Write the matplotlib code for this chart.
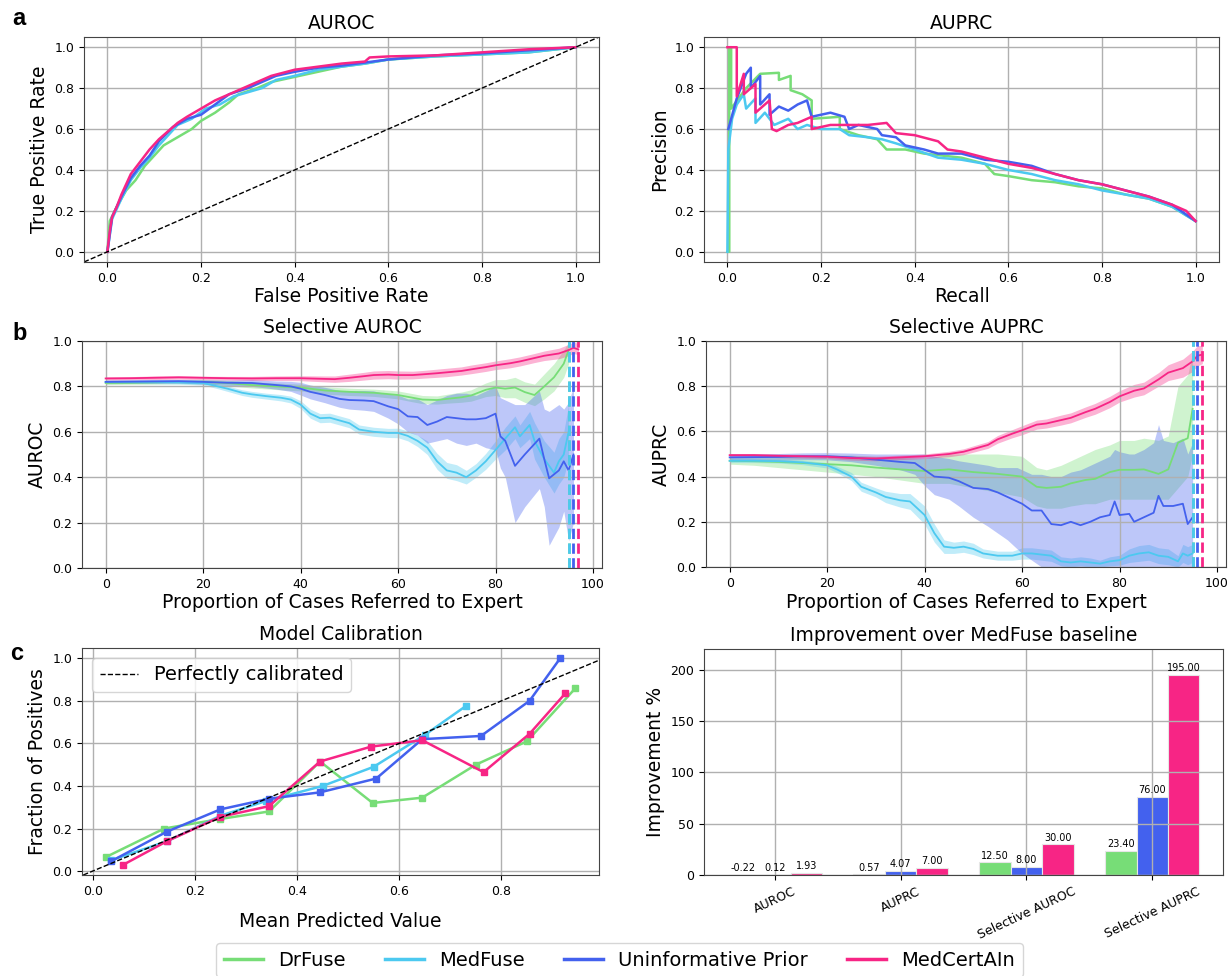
import numpy as np
import matplotlib
matplotlib.use('Agg')
import matplotlib.pyplot as plt

# model names / colours
names = ['DrFuse', 'MedFuse', 'Uninformative Prior', 'MedCertAIn']
colors = ['#77DD77', '#4CC9F0', '#4361EE', '#F72585']

# ---- a: ROC curves (fpr, tpr)
roc_drfuse = [(0, 0), (0.005, 0.15), (0.02, 0.22), (0.04, 0.3), (0.06, 0.35), (0.08, 0.42), (0.1, 0.47),
              (0.12, 0.52), (0.15, 0.56), (0.18, 0.6), (0.2, 0.64), (0.23, 0.68), (0.26, 0.73), (0.28, 0.77),
              (0.32, 0.8), (0.35, 0.83), (0.4, 0.855), (0.45, 0.88), (0.5, 0.905), (0.55, 0.92), (0.6, 0.94),
              (0.7, 0.955), (0.8, 0.965), (0.9, 0.975), (0.96, 0.99), (1, 1)]
roc_medfuse = [(0, 0), (0.01, 0.16), (0.03, 0.26), (0.05, 0.35), (0.07, 0.41), (0.09, 0.46), (0.11, 0.52),
               (0.13, 0.57), (0.15, 0.62), (0.18, 0.65), (0.21, 0.7), (0.24, 0.72), (0.27, 0.76), (0.3, 0.78),
               (0.33, 0.8), (0.36, 0.84), (0.4, 0.86), (0.45, 0.89), (0.5, 0.905), (0.55, 0.92), (0.6, 0.94),
               (0.7, 0.955), (0.8, 0.965), (0.9, 0.975), (1, 1)]
roc_uninf = [(0, 0), (0.01, 0.17), (0.03, 0.27), (0.05, 0.36), (0.07, 0.42), (0.09, 0.47), (0.11, 0.54),
             (0.14, 0.61), (0.17, 0.65), (0.2, 0.67), (0.23, 0.72), (0.26, 0.77), (0.3, 0.8), (0.33, 0.83),
             (0.36, 0.86), (0.4, 0.88), (0.45, 0.9), (0.5, 0.91), (0.55, 0.925), (0.6, 0.94), (0.7, 0.96),
             (0.8, 0.97), (0.9, 0.985), (1, 1)]
roc_medcert = [(0, 0), (0.005, 0.1), (0.01, 0.17), (0.02, 0.22), (0.03, 0.28), (0.04, 0.33), (0.05, 0.38),
               (0.07, 0.44), (0.09, 0.5), (0.11, 0.55), (0.13, 0.59), (0.15, 0.63), (0.17, 0.66), (0.2, 0.7),
               (0.23, 0.74), (0.26, 0.77), (0.3, 0.81), (0.35, 0.86), (0.4, 0.89), (0.45, 0.905), (0.5, 0.92),
               (0.55, 0.93), (0.56, 0.95), (0.6, 0.955), (0.7, 0.96), (0.8, 0.975), (0.9, 0.99), (1, 1)]

# ---- a: PR curves (recall, precision)
pr_drfuse = [(0, 0), (0.004, 0), (0.004, 1.0), (0.008, 1.0), (0.008, 0.7), (0.04, 0.8), (0.07, 0.87),
             (0.11, 0.875), (0.11, 0.84), (0.135, 0.86), (0.135, 0.79), (0.16, 0.77), (0.18, 0.74), (0.18, 0.65),
             (0.24, 0.66), (0.24, 0.6), (0.28, 0.57), (0.32, 0.55), (0.34, 0.5), (0.38, 0.5), (0.42, 0.48),
             (0.5, 0.46), (0.55, 0.43), (0.57, 0.38), (0.6, 0.37), (0.65, 0.35), (0.7, 0.34), (0.75, 0.32),
             (0.8, 0.31), (0.85, 0.28), (0.9, 0.26), (0.95, 0.22), (1.0, 0.15)]
pr_medfuse = [(0, 0), (0.002, 0.5), (0.01, 0.65), (0.02, 0.72), (0.035, 0.77), (0.04, 0.7), (0.06, 0.75),
              (0.06, 0.63), (0.08, 0.68), (0.1, 0.62), (0.13, 0.65), (0.15, 0.6), (0.17, 0.62), (0.2, 0.6),
              (0.24, 0.6), (0.26, 0.57), (0.3, 0.56), (0.33, 0.55), (0.36, 0.53), (0.4, 0.5), (0.45, 0.46),
              (0.5, 0.45), (0.55, 0.43), (0.6, 0.4), (0.65, 0.38), (0.7, 0.35), (0.75, 0.33), (0.8, 0.3),
              (0.85, 0.28), (0.9, 0.26), (0.95, 0.22), (1.0, 0.15)]
pr_uninf = [(0.002, 0.6), (0.02, 0.75), (0.04, 0.87), (0.05, 0.9), (0.05, 0.8), (0.07, 0.86), (0.07, 0.72),
            (0.09, 0.77), (0.09, 0.67), (0.11, 0.71), (0.13, 0.69), (0.15, 0.72), (0.17, 0.74), (0.18, 0.66),
            (0.22, 0.68), (0.25, 0.66), (0.26, 0.6), (0.28, 0.62), (0.32, 0.6), (0.33, 0.57), (0.36, 0.56),
            (0.38, 0.52), (0.42, 0.5), (0.45, 0.48), (0.5, 0.48), (0.55, 0.45), (0.6, 0.44), (0.65, 0.42),
            (0.7, 0.38), (0.75, 0.35), (0.8, 0.33), (0.85, 0.3), (0.9, 0.27), (0.95, 0.23), (1.0, 0.15)]
pr_medcert = [(0, 1.0), (0.02, 1.0), (0.02, 0.76), (0.035, 0.87), (0.035, 0.77), (0.06, 0.82), (0.06, 0.68),
              (0.09, 0.74), (0.095, 0.6), (0.105, 0.59), (0.13, 0.62), (0.15, 0.63), (0.18, 0.66), (0.18, 0.6),
              (0.22, 0.62), (0.3, 0.62), (0.34, 0.63), (0.36, 0.58), (0.4, 0.57), (0.45, 0.54), (0.47, 0.5),
              (0.5, 0.49), (0.55, 0.46), (0.6, 0.43), (0.65, 0.41), (0.7, 0.38), (0.75, 0.35), (0.8, 0.33),
              (0.85, 0.3), (0.9, 0.27), (0.95, 0.23), (0.98, 0.2), (1.0, 0.15)]

# ---- b: selective AUROC (x, mean, lo, hi)
sauroc_drfuse = [(0, .815, .808, .822), (5, .816, .809, .823), (10, .818, .81, .826), (15, .82, .812, .828),
                 (20, .82, .81, .83), (25, .815, .803, .827), (30, .806, .793, .82), (35, .8, .786, .815),
                 (40, .795, .78, .81), (45, .782, .766, .798), (50, .776, .76, .792), (55, .772, .756, .788),
                 (60, .762, .745, .78), (63, .75, .732, .768), (65, .742, .724, .76), (68, .74, .722, .758),
                 (70, .745, .726, .765), (73, .752, .73, .775), (75, .76, .735, .785), (78, .785, .755, .815),
                 (80, .795, .76, .83), (82, .79, .75, .83), (84, .795, .75, .84), (86, .775, .73, .82),
                 (88, .762, .715, .81), (90, .8, .745, .855), (92, .84, .78, .9), (94, .9, .84, .96),
                 (95, .96, .9, .995)]
sauroc_medfuse = [(0, .82, .813, .827), (5, .82, .813, .827), (10, .82, .812, .828), (15, .818, .81, .826),
                  (20, .815, .806, .824), (23, .8, .79, .81), (25, .79, .778, .802), (28, .772, .76, .785),
                  (30, .765, .752, .778), (33, .757, .744, .77), (36, .75, .736, .764), (38, .742, .727, .757),
                  (40, .72, .703, .737), (42, .68, .66, .7), (44, .66, .64, .68), (46, .662, .642, .682),
                  (48, .65, .63, .67), (50, .638, .618, .658), (52, .61, .59, .63), (55, .6, .58, .62),
                  (58, .595, .575, .615), (60, .595, .574, .616), (62, .582, .56, .604), (64, .56, .535, .585),
                  (66, .53, .5, .56), (68, .47, .435, .505), (70, .43, .395, .465), (72, .42, .385, .455),
                  (74, .4, .37, .43), (76, .43, .4, .46), (78, .47, .435, .505), (80, .52, .48, .56),
                  (82, .57, .52, .62), (84, .62, .57, .67), (85, .58, .53, .63), (87, .63, .57, .69),
                  (88, .56, .48, .64), (90, .48, .4, .56), (92, .42, .33, .51), (93, .47, .37, .57),
                  (94, .5, .4, .6), (95, .6, .48, .72)]
sauroc_uninf = [(0, .82, .812, .828), (5, .821, .813, .829), (10, .822, .814, .83), (15, .823, .815, .831),
                (20, .82, .81, .83), (25, .816, .804, .828), (30, .815, .8, .83), (35, .806, .788, .824),
                (38, .8, .778, .822), (40, .79, .762, .818), (42, .776, .745, .806), (45, .762, .728, .796),
                (48, .745, .708, .782), (50, .74, .7, .78), (53, .738, .695, .782), (55, .735, .69, .78),
                (58, .712, .66, .765), (60, .7, .635, .762), (62, .668, .6, .745), (64, .665, .585, .745),
                (66, .63, .55, .72), (68, .645, .56, .74), (70, .665, .57, .76), (72, .66, .55, .77),
                (74, .655, .54, .77), (76, .655, .55, .76), (78, .66, .53, .78), (80, .68, .52, .8),
                (81, .58, .44, .75), (82, .56, .4, .74), (84, .45, .2, .72), (86, .5, .27, .72),
                (89, .57, .35, .78), (90, .48, .27, .7), (91, .395, .1, .69), (93, .43, .18, .72),
                (94, .47, .25, .7), (95, .43, .12, .73), (96, .5, .2, .8)]
sauroc_medcert = [(0, .835, .828, .842), (5, .836, .829, .843), (10, .838, .83, .846), (15, .84, .832, .847),
                  (20, .838, .83, .845), (25, .836, .828, .844), (30, .835, .826, .844), (35, .836, .826, .846),
                  (40, .836, .825, .847), (45, .833, .82, .846), (47, .832, .818, .846), (50, .838, .822, .854),
                  (53, .845, .828, .862), (55, .85, .832, .868), (58, .852, .834, .87), (60, .85, .832, .868),
                  (63, .85, .833, .867), (65, .853, .836, .87), (68, .858, .84, .876), (70, .862, .843, .88),
                  (73, .868, .85, .886), (75, .875, .856, .894), (78, .885, .866, .904), (80, .893, .874, .912),
                  (83, .902, .882, .922), (85, .91, .89, .93), (88, .925, .905, .945), (90, .935, .914, .956),
                  (93, .945, .922, .968), (95, .96, .935, .985), (96, .97, .945, .995), (97, .963, .94, .99)]

# ---- b: selective AUPRC (x, mean, lo, hi)
sauprc_drfuse = [(0, .47, .455, .485), (5, .468, .45, .486), (10, .465, .44, .49), (15, .46, .43, .49),
                 (20, .455, .42, .495), (25, .45, .41, .495), (30, .44, .4, .49), (35, .432, .385, .485),
                 (40, .425, .37, .48), (45, .432, .37, .5), (50, .42, .35, .5), (55, .412, .33, .5),
                 (60, .4, .31, .49), (63, .355, .27, .44), (65, .35, .26, .43), (68, .355, .26, .45),
                 (70, .37, .27, .47), (73, .385, .28, .5), (75, .39, .28, .52), (78, .42, .3, .54),
                 (80, .43, .3, .56), (83, .43, .3, .56), (85, .432, .3, .57), (88, .412, .3, .56),
                 (90, .432, .3, .58), (92, .55, .35, .8), (94, .57, .4, .85), (95, .7, .5, .95)]
sauprc_medfuse = [(0, .47, .462, .478), (5, .47, .462, .478), (10, .468, .46, .476), (15, .463, .453, .473),
                  (20, .45, .438, .462), (22, .432, .418, .446), (25, .4, .382, .418), (27, .355, .335, .375),
                  (30, .33, .31, .35), (32, .31, .285, .335), (35, .295, .265, .325), (37, .29, .255, .325),
                  (40, .23, .19, .27), (42, .15, .11, .19), (44, .09, .06, .12), (46, .085, .06, .11),
                  (48, .09, .065, .115), (50, .08, .055, .105), (52, .06, .04, .08), (55, .05, .03, .07),
                  (58, .05, .03, .07), (60, .06, .035, .085), (62, .06, .035, .085), (64, .055, .03, .08),
                  (66, .05, .025, .075), (68, .025, .005, .045), (70, .02, .0, .04), (72, .025, .005, .045),
                  (74, .02, .0, .04), (76, .015, .0, .03), (78, .025, .005, .045), (80, .03, .008, .052),
                  (82, .05, .02, .08), (84, .06, .025, .095), (86, .065, .03, .1), (88, .05, .015, .085),
                  (90, .045, .01, .08), (92, .025, .0, .05), (93, .06, .02, .1), (94, .05, .01, .09),
                  (95, .06, .02, .1)]
sauprc_uninf = [(0, .485, .47, .5), (5, .486, .47, .5), (10, .487, .472, .502), (15, .49, .475, .505),
                (20, .49, .474, .506), (25, .485, .466, .504), (30, .475, .45, .5), (35, .465, .43, .5),
                (38, .46, .41, .5), (40, .43, .36, .5), (42, .4, .32, .49), (45, .395, .3, .48),
                (47, .38, .27, .47), (50, .35, .22, .46), (53, .345, .18, .45), (55, .33, .15, .44),
                (57, .31, .12, .44), (59, .29, .08, .44), (60, .28, .06, .43), (62, .25, .03, .41),
                (64, .25, .0, .41), (66, .19, -.02, .4), (68, .185, -.03, .4), (70, .2, -.03, .42),
                (72, .185, -.04, .43), (74, .2, -.05, .45), (76, .22, -.05, .47), (78, .23, -.05, .49),
                (79, .29, .0, .52), (80, .23, -.05, .51), (82, .235, -.04, .5), (83, .2, -.04, .5),
                (85, .22, -.03, .52), (87, .24, -.03, .55), (88, .315, .0, .63), (89, .27, -.02, .56),
                (91, .27, -.03, .55), (93, .28, -.02, .57), (94, .19, -.03, .5), (95, .22, .0, .55)]
sauprc_medcert = [(0, .495, .488, .502), (5, .495, .488, .502), (10, .492, .484, .5), (15, .49, .482, .498),
                  (20, .488, .48, .496), (25, .482, .473, .491), (30, .48, .47, .49), (35, .485, .475, .495),
                  (40, .49, .48, .5), (45, .5, .488, .512), (48, .51, .497, .523), (50, .522, .508, .536),
                  (53, .54, .525, .555), (55, .565, .548, .582), (58, .59, .572, .608), (60, .605, .585, .625),
                  (63, .63, .61, .65), (65, .635, .615, .655), (68, .65, .628, .672), (70, .66, .638, .682),
                  (73, .685, .662, .708), (75, .7, .676, .724), (78, .73, .705, .755), (80, .755, .73, .78),
                  (83, .78, .752, .808), (85, .79, .762, .818), (88, .83, .8, .86), (90, .86, .825, .895),
                  (93, .88, .84, .92), (95, .91, .865, .955), (96, .935, .89, .98), (97, .94, .9, .98)]

# referral cut-off per model (dashed lines)
cutoffs = [95, 95, 96, 97]

# ---- c: calibration (mean predicted, fraction positives)
cal_drfuse = [(0.025, 0.065), (0.14, 0.2), (0.25, 0.245), (0.345, 0.28), (0.445, 0.515), (0.548, 0.32),
              (0.645, 0.345), (0.75, 0.5), (0.85, 0.61), (0.945, 0.86)]
cal_medfuse = [(0.035, 0.05), (0.145, 0.14), (0.25, 0.26), (0.34, 0.33), (0.45, 0.4), (0.55, 0.49),
               (0.65, 0.64), (0.73, 0.775)]
cal_uninf = [(0.035, 0.045), (0.145, 0.185), (0.25, 0.29), (0.345, 0.34), (0.445, 0.37), (0.555, 0.435),
             (0.645, 0.62), (0.76, 0.635), (0.855, 0.8), (0.915, 1.0)]
cal_medcert = [(0.06, 0.03), (0.145, 0.14), (0.25, 0.255), (0.345, 0.305), (0.445, 0.515), (0.545, 0.585),
               (0.645, 0.615), (0.765, 0.465), (0.855, 0.645), (0.925, 0.835)]

# ---- c: improvement over MedFuse (%)
metrics = ['AUROC', 'AUPRC', 'Selective AUROC', 'Selective AUPRC']
imp_drfuse = [-0.22, 0.57, 12.50, 23.40]
imp_uninf = [0.12, 4.07, 8.00, 76.00]
imp_medcert = [1.93, 7.00, 30.00, 195.00]

TICK = 9
LAB = 13.5

fig = plt.figure(figsize=(12.32, 9.76), dpi=100)
W, H = 1232, 976


def ax_at(l, t, r, b):
    ax = fig.add_axes([l / W, 1 - b / H, (r - l) / W, (b - t) / H])
    ax.grid(True, color='#b0b0b0', lw=1)
    ax.tick_params(labelsize=TICK)
    for s in ax.spines.values():
        s.set_color('#444444')
    return ax


# a - ROC
ax1 = ax_at(84, 37, 599, 262)
for data, c in zip([roc_drfuse, roc_medfuse, roc_uninf, roc_medcert], colors):
    d = np.array(data)
    ax1.plot(d[:, 0], d[:, 1], color=c, lw=1.8)
ax1.axline((0, 0), (1, 1), color='black', ls='--', lw=1)
ax1.set_xlim(-0.05, 1.05)
ax1.set_ylim(-0.05, 1.05)
ax1.set_title('AUROC', fontsize=LAB)
ax1.set_xlabel('False Positive Rate', fontsize=LAB, labelpad=2)
ax1.set_ylabel('True Positive Rate', fontsize=LAB)

# a - PR
ax2 = ax_at(704, 37, 1219, 262)
for data, c in zip([pr_drfuse, pr_medfuse, pr_uninf, pr_medcert], colors):
    d = np.array(data)
    ax2.plot(d[:, 0], d[:, 1], color=c, lw=1.8)
ax2.set_xlim(-0.05, 1.05)
ax2.set_ylim(-0.05, 1.05)
ax2.set_title('AUPRC', fontsize=LAB)
ax2.set_xlabel('Recall', fontsize=LAB, labelpad=2)
ax2.set_ylabel('Precision', fontsize=LAB)


def selective(ax, series, title, ylab):
    for data, c in zip(series, colors):
        d = np.array(data)
        ax.fill_between(d[:, 0], d[:, 2], d[:, 3], color=c, alpha=0.35, lw=0)
        ax.plot(d[:, 0], d[:, 1], color=c, lw=1.3)
    for x, c in zip(cutoffs, colors):
        ax.axvline(x, color=c, ls='--', lw=2)
    ax.set_xlim(-4.85, 101.85)
    ax.set_ylim(0, 1)
    ax.set_title(title, fontsize=LAB)
    ax.set_xlabel('Proportion of Cases Referred to Expert', fontsize=LAB, labelpad=2)
    ax.set_ylabel(ylab, fontsize=LAB)


ax3 = ax_at(82, 341, 602, 568)
selective(ax3, [sauroc_drfuse, sauroc_medfuse, sauroc_uninf, sauroc_medcert], 'Selective AUROC', 'AUROC')
ax4 = ax_at(706, 341, 1226, 567)
selective(ax4, [sauprc_drfuse, sauprc_medfuse, sauprc_uninf, sauprc_medcert], 'Selective AUPRC', 'AUPRC')

# c - calibration
ax5 = ax_at(82, 648, 599, 875)
for data, c in zip([cal_drfuse, cal_medfuse, cal_uninf, cal_medcert], colors):
    d = np.array(data)
    ax5.plot(d[:, 0], d[:, 1], color=c, lw=1.8, marker='s', ms=4)
ax5.axline((0, 0), (1, 1), color='black', ls='--', lw=1, label='Perfectly calibrated')
ax5.set_xlim(-0.021, 0.991)
ax5.set_ylim(-0.0185, 1.0485)
ax5.legend(loc='upper left', fontsize=14)
ax5.set_title('Model Calibration', fontsize=LAB)
ax5.set_xlabel('Mean Predicted Value', fontsize=LAB, labelpad=10)
ax5.set_ylabel('Fraction of Positives', fontsize=LAB)

# c - improvement bars
ax6 = ax_at(704, 649, 1223, 875)
xs = np.arange(len(metrics))
wd = 0.25
for k, (vals, c) in enumerate(zip([imp_drfuse, imp_uninf, imp_medcert], [colors[0], colors[2], colors[3]])):
    pos = xs + (k - 1) * wd
    ax6.bar(pos, vals, wd, color=c, edgecolor='#e6e6e6', lw=0.8)
    for p, v in zip(pos, vals):
        ax6.text(p, max(v, 0) + 1.5, f'{v:.2f}', ha='center', va='bottom', fontsize=7)
ax6.set_ylim(0, 220)
ax6.set_yticks([0, 50, 100, 150, 200])
ax6.set_xticks(xs)
ax6.set_xticklabels(metrics, rotation=25, fontsize=TICK)
ax6.set_title('Improvement over MedFuse baseline', fontsize=LAB)
ax6.set_ylabel('Improvement %', fontsize=LAB)

# panel letters
for lab, x, y in [('a', 12, 25), ('b', 12, 340), ('c', 10, 660)]:
    fig.text(x / W, 1 - y / H, lab, fontsize=17, fontweight='bold', family='Liberation Sans', va='baseline')

# shared legend
handles = [plt.Line2D([], [], color=c, lw=2.5) for c in colors]
fig.legend(handles, names, loc='upper center', bbox_to_anchor=(0.503, 1 - 933 / H), ncol=4, fontsize=14,
           columnspacing=2.0)

fig.savefig('out.png', dpi=100)
